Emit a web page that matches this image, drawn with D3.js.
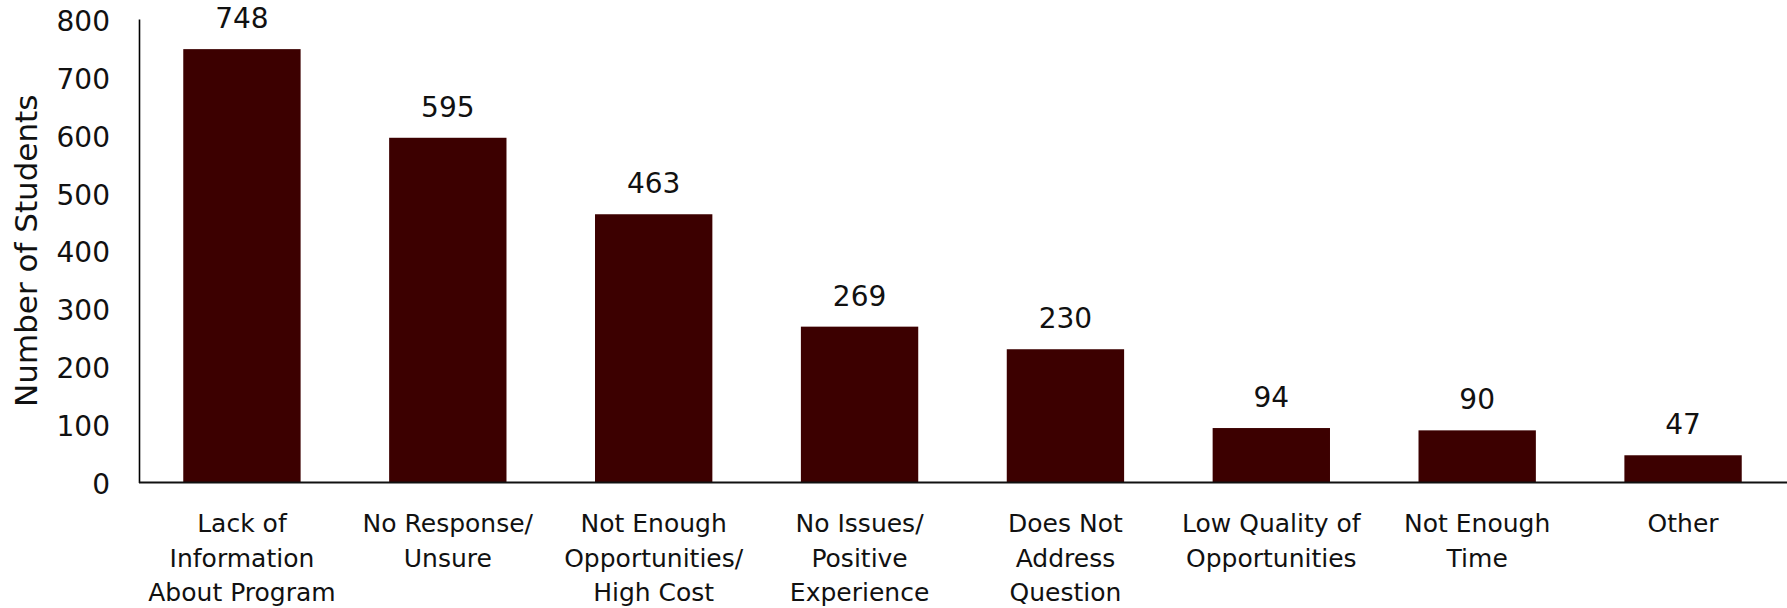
<!DOCTYPE html>
<html>
<head>
<meta charset="utf-8">
<script src="https://cdn.jsdelivr.net/npm/d3@7"></script>
<style>
  html, body { margin: 0; padding: 0; background: #fff; }
  svg { display: block; }
  text { font-family: "DejaVu Sans", sans-serif; fill: #111; }
</style>
</head>
<body>
<svg id="chart" width="1787" height="608"></svg>
<script>
const categories = [
  ["Lack of", "Information", "About Program"],
  ["No Response/", "Unsure"],
  ["Not Enough", "Opportunities/", "High Cost"],
  ["No Issues/", "Positive", "Experience"],
  ["Does Not", "Address", "Question"],
  ["Low Quality of", "Opportunities"],
  ["Not Enough", "Time"],
  ["Other"]
];
const values = [748, 595, 463, 269, 230, 94, 90, 47];
const yTicks = [0, 100, 200, 300, 400, 500, 600, 700, 800];
const yTitle = "Number of Students";

(function () {
const W = 1787, H = 608;
const mLeft = 139, mRight = 1786, mTop = 19, mBottom = 482.5;
const svg = d3.select("#chart");

const keys = categories.map((c, i) => i);
const x = d3.scaleBand().domain(keys).range([mLeft, mRight])
  .paddingInner(0.43).paddingOuter(0.215);
const y = d3.scaleLinear().domain([0, 800]).range([mBottom, mTop]);

// bars
svg.append("g").selectAll("rect").data(values).join("rect")
  .attr("x", (d, i) => x(i))
  .attr("y", d => y(d))
  .attr("width", x.bandwidth())
  .attr("height", d => y(0) - y(d))
  .attr("fill", "#3c0000");

// y axis
const yAxis = d3.axisLeft(y).tickValues(yTicks).tickSize(0).tickPadding(29);
const gy = svg.append("g").attr("transform", `translate(${mLeft},0)`).call(yAxis);
gy.select(".domain").attr("stroke", "#000").attr("stroke-width", 1.6);
gy.selectAll(".tick text")
  .attr("font-family", "DejaVu Sans, sans-serif")
  .attr("font-size", 28)
  .attr("fill", "#111")
  .attr("dy", "0.4em");

// x baseline
svg.append("line")
  .attr("x1", mLeft).attr("x2", W)
  .attr("y1", y(0)).attr("y2", y(0))
  .attr("stroke", "#111").attr("stroke-width", 2);

// value labels
svg.append("g").selectAll("text").data(values).join("text")
  .attr("x", (d, i) => x(i) + x.bandwidth() / 2)
  .attr("y", d => y(d) - 21)
  .attr("text-anchor", "middle")
  .attr("font-size", 28)
  .text(d => d);

// category labels
const catG = svg.append("g");
categories.forEach((lines, i) => {
  const t = catG.append("text")
    .attr("x", x(i) + x.bandwidth() / 2)
    .attr("y", 532)
    .attr("text-anchor", "middle")
    .attr("font-size", 25);
  lines.forEach((ln, j) => {
    t.append("tspan")
      .attr("x", x(i) + x.bandwidth() / 2)
      .attr("y", 532 + j * 34.5)
      .text(ln);
  });
});

// y title
svg.append("text")
  .attr("transform", `translate(37,${(mTop + mBottom) / 2}) rotate(-90)`)
  .attr("text-anchor", "middle")
  .attr("font-size", 31)
  .text(yTitle);
})();
</script>
</body>
</html>
